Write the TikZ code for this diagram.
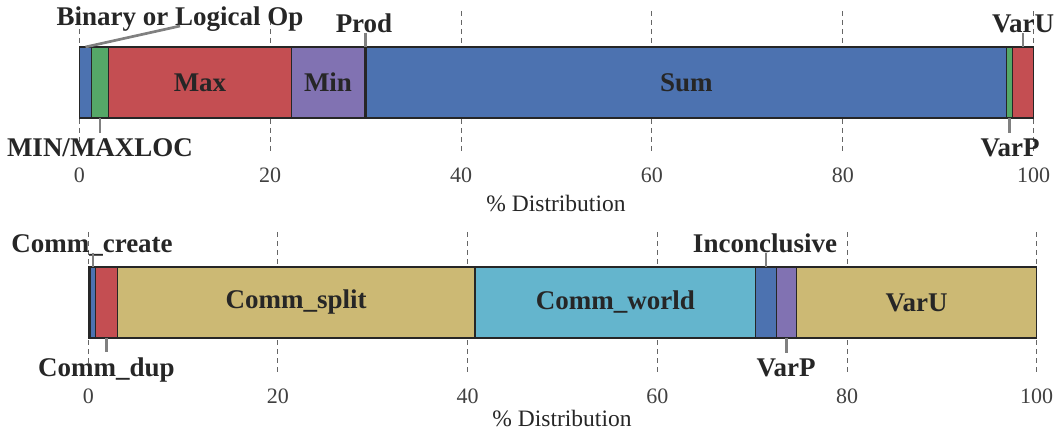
\documentclass[tikz,border=0pt]{standalone}
\usepackage{fontspec}
\setmainfont{Liberation Serif}
\usetikzlibrary{fit}
\definecolor{sbblue}{HTML}{4C72B0}
\definecolor{sbgreen}{HTML}{55A868}
\definecolor{sbred}{HTML}{C44E52}
\definecolor{sbpurple}{HTML}{8172B2}
\definecolor{sbcyan}{HTML}{64B5CD}
\definecolor{sbtan}{HTML}{CCB974}
\definecolor{txtdark}{HTML}{262626}
\definecolor{ticktxt}{HTML}{404040}
\definecolor{leadgray}{HTML}{808080}
\definecolor{gridgray}{HTML}{666666}
\tikzset{
  segbox/.style={inner sep=0pt, outer sep=0pt, draw=black!85, line width=0.6pt},
  inlabel/.style={inner sep=0pt, font=\fontsize{13.5}{15}\selectfont\bfseries, text=txtdark},
  outlabel/.style={inner sep=3pt, font=\fontsize{13.5}{15}\selectfont\bfseries, text=txtdark},
  ticklabel/.style={inner sep=0pt, anchor=base, font=\fontsize{11}{13}\selectfont, text=ticktxt},
  axislabel/.style={inner sep=0pt, anchor=base, font=\fontsize{11.75}{13}\selectfont, text=txtdark},
  gridline/.style={draw=gridgray, line width=0.5pt, dash pattern=on 2.5pt off 2pt},
  lead/.style={draw=leadgray, line width=1.35pt},
}
\begin{document}
\begin{tikzpicture}[x=0.5pt,y=-0.5pt]
\useasboundingbox (0,0) rectangle (1056,433);
% grid lines
\foreach \i in {0,...,5} {
  \draw[gridline] ({79.3+190.88*\i},11) -- ({79.3+190.88*\i},153);
  \draw[gridline] ({88.3+189.68*\i},232) -- ({88.3+189.68*\i},373);
  \pgfmathtruncatemacro\v{20*\i}
  \node[ticklabel] (ta\i) at ({79.3+190.88*\i},183) {\v};
  \node[ticklabel] (tb\i) at ({88.3+189.68*\i},403) {\v};
}
% top bar
\node[segbox, fill=sbblue,   fit={(79.3,47) (91.7,118)}] (b1) {};
\node[segbox, fill=sbgreen,  fit={(91.7,47) (108.3,118)}] (g1) {};
\node[segbox, fill=sbred,    fit={(108.3,47) (291.7,118)}] (max) {};
\node[segbox, fill=sbpurple, fit={(291.7,47) (364.3,118)}] (min) {};
\node[segbox, fill=black,    fit={(364.3,47) (366,118)}] (prod) {};
\node[segbox, fill=sbblue,   fit={(366,47) (1006.7,118)}] (sum) {};
\node[segbox, fill=sbgreen,  fit={(1006.7,47) (1012.3,118)}] (varpa) {};
\node[segbox, fill=sbred,    fit={(1012.3,47) (1033.7,118)}] (varua) {};
\node[inlabel] (lmax) at (max.center) {Max};
\node[inlabel] (lmin) at (min.center) {Min};
\node[inlabel] (lsum) at (sum.center) {Sum};
% top labels
\node[outlabel, anchor=base] (lbin) at (180,26) {Binary or Logical Op};
\node[outlabel, anchor=base] (lprod) at (364,33) {Prod};
\node[outlabel, anchor=base] (lminmax) at (100,157) {MIN/MAXLOC};
\node[outlabel, anchor=base] (lvarua) at (1023,33) {VarU};
\node[outlabel, anchor=base] (lvarpa) at (1010,157) {VarP};
\draw[lead] (b1.north) -- (lbin.base);
\draw[lead] (prod.north) -- (prod.north |- lprod.base);
\draw[lead] (g1.south) -- (g1.south |- lminmax.north);
\draw[lead] (varua.north) -- (varua.north |- lvarua.base);
\draw[lead] (varpa.south) -- (varpa.south |- lvarpa.north);
\node[axislabel] (axa) at (556,211.7) {\% Distribution};
% bottom bar
\node[segbox, fill=black,    fit={(88.3,267) (90,338)}] (k0) {};
\node[segbox, fill=sbblue,   fit={(90,267) (95.7,338)}] (cc) {};
\node[segbox, fill=sbred,    fit={(95.7,267) (117.3,338)}] (cd) {};
\node[segbox, fill=sbtan,    fit={(117.3,267) (475,338)}] (split) {};
\node[segbox, fill=sbcyan,   fit={(475,267) (755.7,338)}] (world) {};
\node[segbox, fill=sbblue,   fit={(755.7,267) (776.3,338)}] (inc) {};
\node[segbox, fill=sbpurple, fit={(776.3,267) (796.7,338)}] (varpb) {};
\node[segbox, fill=sbtan,    fit={(796.7,267) (1036.7,338)}] (varub) {};
\node[inlabel] (lsplit) at (split.center) {Comm\_split};
\node[inlabel] (lworld) at (world.center) {Comm\_world};
\node[inlabel] (lvarub) at (varub.center) {VarU};
% bottom labels
\node[outlabel, anchor=base] (lcc) at (92,253) {Comm\_create};
\node[outlabel, anchor=base] (lcd) at (106.5,376.7) {Comm\_dup};
\node[outlabel, anchor=base] (linc) at (765,253) {Inconclusive};
\node[outlabel, anchor=base] (lvarpb) at (786,376.7) {VarP};
\draw[lead] (cc.north) -- (cc.north |- lcc.base);
\draw[lead] (cd.south) -- (cd.south |- lcd.north);
\draw[lead] (inc.north) -- (inc.north |- linc.base);
\draw[lead] (varpb.south) -- (varpb.south |- lvarpb.north);
\node[axislabel] (axb) at (562,426.7) {\% Distribution};
\end{tikzpicture}
\end{document}
